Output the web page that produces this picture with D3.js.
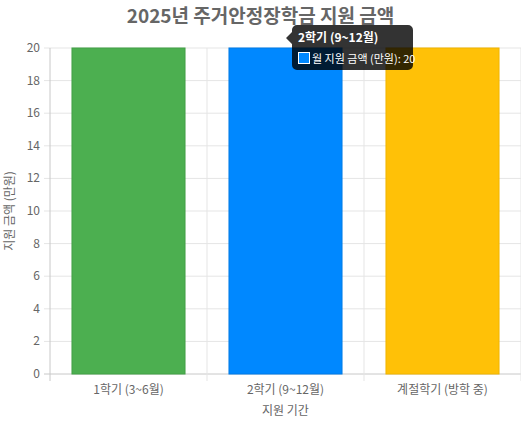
<!DOCTYPE html><html><head><meta charset="utf-8">
<script src="https://cdn.jsdelivr.net/npm/d3@7"></script>
<style>body{margin:0;background:#fff}text{font-family:"Noto Sans CJK KR","Noto Sans",sans-serif}</style></head><body>
<svg id="c" width="521" height="425"></svg>
<script>
const categories=["1학기 (3~6월)","2학기 (9~12월)","계절학기 (방학 중)"];
const values=[20,20,20];
const colors=["#4CAF50","#0088FF","#FFC107"];
const borders=["#43A047","#007BE6","#F0B400"];
const yTicks=[0,2,4,6,8,10,12,14,16,18,20];
const svg=d3.select("#c");
const L=50,R=521,T=48,B=374;
const x=d3.scaleBand().domain(categories).range([L,R]);
const y=d3.scaleLinear().domain([0,20]).range([B,T]);
const g=svg.append("g");
yTicks.forEach(t=>g.append("line").attr("x1",L-6).attr("x2",R).attr("y1",y(t)).attr("y2",y(t)).attr("stroke",t==0?"#c8c8c8":"#e5e5e5"));
[0,1,2,3].forEach(i=>{const xx=L+i*x.bandwidth();g.append("line").attr("x1",xx).attr("x2",xx).attr("y1",T).attr("y2",B+7).attr("stroke",i==0?"#c8c8c8":"#e5e5e5");});
yTicks.forEach(t=>g.append("text").attr("x",L-10).attr("y",y(t)+4).attr("text-anchor","end").attr("font-size",12).attr("fill","#666").text(t));
categories.forEach((c,i)=>{
 const bw=x.bandwidth()*0.72, bx=x(c)+(x.bandwidth()-bw)/2;
 g.append("rect").attr("x",bx).attr("y",y(values[i])).attr("width",bw).attr("height",y(0)-y(values[i])).attr("fill",colors[i]).attr("stroke",borders[i]).attr("stroke-width",1);
 g.append("text").attr("x",x(c)+x.bandwidth()/2).attr("y",B+20).attr("text-anchor","middle").attr("font-size",12).attr("fill","#666").text(c);
});
svg.append("text").attr("x",(L+R)/2).attr("y",415).attr("text-anchor","middle").attr("font-size",12).attr("fill","#666").text("지원 기간");
svg.append("text").attr("transform",`translate(14,${(T+B)/2}) rotate(-90)`).attr("text-anchor","middle").attr("font-size",12).attr("fill","#666").text("지원 금액 (만원)");
svg.append("text").attr("x",L+(R-L)/2-25).attr("y",23).attr("text-anchor","middle").attr("font-size",19).attr("font-weight","bold").attr("fill","#666").text("2025년 주거안정장학금 지원 금액");
// tooltip
const tt=svg.append("g");
tt.append("path").attr("d","M292,25 h116 a5,5 0 0 1 5,5 v35 a5,5 0 0 1 -5,5 h-111 a5,5 0 0 1 -5,-5 v-21 l-6,-6 l6,-6 v-2 a5,5 0 0 1 5,-5 z").attr("fill","rgba(0,0,0,0.8)");
tt.append("text").attr("x",298).attr("y",42).attr("font-size",12).attr("font-weight","bold").attr("fill","#fff").text(categories[1]);
tt.append("rect").attr("x",298.5).attr("y",52.5).attr("width",11).attr("height",11).attr("fill",colors[1]).attr("stroke","#fff");
tt.append("text").attr("x",312).attr("y",63).attr("font-size",11).attr("fill","#fff").text("월 지원 금액 (만원): "+values[1]);
</script></body></html>
